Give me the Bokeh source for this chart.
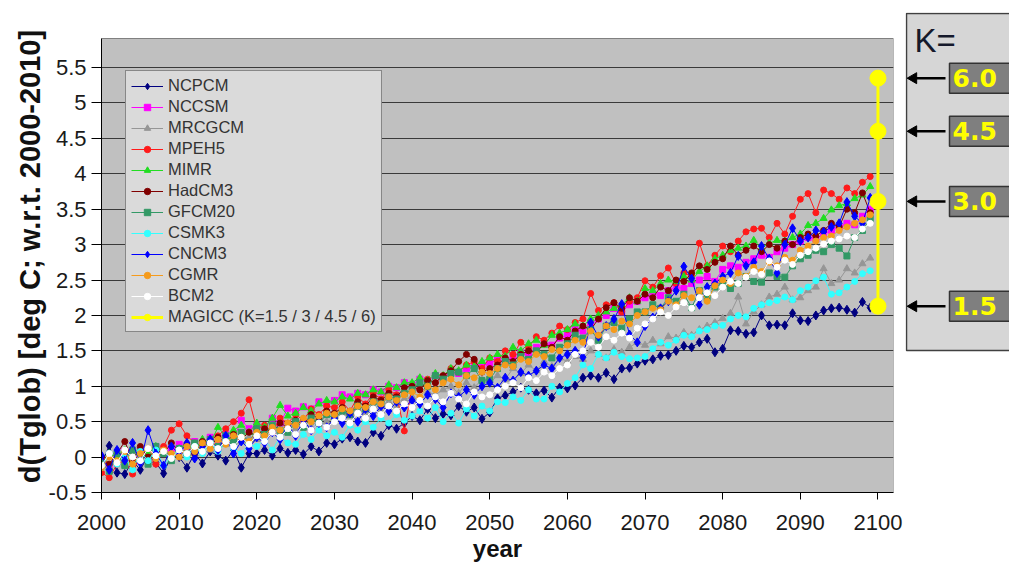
import math
from bokeh.plotting import figure
from bokeh.models import Range1d, FixedTicker, NumeralTickFormatter, Legend, LegendItem
from bokeh.layouts import row
from bokeh.embed import file_html
from bokeh.resources import INLINE
from bokeh.core.properties import value

years = list(range(2000, 2100))
x_ticks = [2000, 2010, 2020, 2030, 2040, 2050, 2060, 2070, 2080, 2090, 2100]
y_ticks = [-0.5, 0.0, 0.5, 1.0, 1.5, 2.0, 2.5, 3.0, 3.5, 4.0, 4.5, 5.0, 5.5]

NCPCM = [-0.10, 0.16, -0.22, -0.24, -0.05, -0.18, 0.02, -0.08, -0.23, 0.03,
         0.00, -0.15, 0.05, -0.09, 0.08, 0.02, -0.05, 0.10, -0.15, 0.05,
         0.05, 0.10, 0.02, 0.12, 0.06, 0.10, 0.04, 0.15, 0.08, 0.20,
         0.18, 0.26, 0.28, 0.22, 0.20, 0.35, 0.30, 0.45, 0.40, 0.48,
         0.58, 0.52, 0.68, 0.55, 0.61, 0.59, 0.72, 0.64, 0.70, 0.54,
         0.63, 0.83, 0.87, 0.92, 0.98, 0.95, 0.90, 0.94, 0.84, 0.98,
         0.97, 1.01, 1.12, 1.15, 1.12, 1.19, 1.10, 1.25, 1.26, 1.32,
         1.36, 1.38, 1.43, 1.44, 1.50, 1.57, 1.55, 1.62, 1.67, 1.48,
         1.53, 1.79, 1.78, 1.74, 1.76, 2.00, 1.86, 1.87, 1.86, 2.03,
         1.93, 1.92, 2.00, 2.07, 2.10, 2.11, 2.08, 2.04, 2.19, 2.11]
NCCSM = [-0.05, -0.12, 0.00, 0.08, -0.08, 0.10, 0.02, 0.15, 0.05, 0.12,
         0.18, 0.10, 0.22, 0.15, 0.28, 0.20, 0.32, 0.25, 0.52, 0.40,
         0.45, 0.40, 0.55, 0.48, 0.69, 0.65, 0.71, 0.68, 0.78, 0.75,
         0.80, 0.88, 0.85, 0.90, 0.88, 0.95, 0.92, 1.00, 0.98, 1.05,
         1.02, 1.10, 1.08, 1.15, 1.12, 1.20, 1.18, 1.25, 1.28, 1.30,
         1.32, 1.38, 1.35, 1.42, 1.48, 1.45, 1.55, 1.60, 1.58, 1.68,
         1.72, 1.80, 1.78, 1.90, 1.95, 2.00, 2.10, 2.05, 2.15, 2.20,
         2.25, 2.30, 2.28, 2.35, 2.40, 2.38, 2.45, 2.50, 2.55, 2.48,
         2.65, 2.70, 2.68, 2.75, 2.80, 2.85, 2.82, 2.90, 2.95, 3.00,
         3.05, 3.10, 3.08, 3.15, 3.20, 3.25, 3.30, 3.28, 3.40, 3.50]
MRCGCM = [-0.05, -0.15, 0.02, -0.10, 0.08, -0.02, 0.05, -0.08, 0.12, 0.00,
          0.08, 0.15, 0.05, 0.20, 0.10, 0.25, 0.18, 0.30, 0.22, 0.28,
          0.25, 0.32, 0.38, 0.30, 0.45, 0.40, 0.48, 0.42, 0.55, 0.50,
          0.55, 0.62, 0.58, 0.68, 0.60, 0.72, 0.65, 0.78, 0.70, 0.82,
          0.85, 0.78, 0.92, 0.88, 0.95, 1.00, 0.90, 1.05, 0.98, 1.10,
          1.05, 1.15, 1.10, 1.25, 1.18, 1.30, 1.22, 1.35, 1.28, 1.40,
          1.35, 1.42, 1.38, 1.50, 1.45, 1.40, 1.52, 1.48, 1.55, 1.62,
          1.58, 1.65, 1.60, 1.70, 1.68, 1.76, 1.72, 1.80, 1.85, 1.90,
          1.96, 2.03, 2.26, 1.88, 2.05, 2.15, 2.26, 2.30, 2.40, 2.22,
          2.25, 2.35, 2.40, 2.66, 2.45, 2.50, 2.66, 2.60, 2.73, 2.81]
MPEH5 = [-0.22, -0.29, -0.10, -0.05, -0.24, 0.05, 0.00, -0.10, 0.15, 0.38,
         0.47, 0.30, 0.20, 0.15, 0.25, 0.30, 0.40, 0.50, 0.62, 0.81,
         0.40, 0.45, 0.35, 0.55, 0.48, 0.60, 0.52, 0.68, 0.60, 0.72,
         0.70, 0.78, 0.65, 0.85, 0.75, 0.90, 0.82, 0.95, 0.88, 0.37,
         1.00, 0.95, 1.10, 1.05, 1.15, 1.25, 1.20, 1.30, 1.35, 1.25,
         1.40, 1.35, 1.50, 1.45, 1.62, 1.55, 1.70, 1.65, 1.75, 1.85,
         1.80, 1.90, 1.95, 2.31, 2.07, 2.15, 2.18, 2.05, 2.20, 2.25,
         2.49, 2.40, 2.56, 2.67, 2.45, 2.60, 2.55, 3.02, 2.70, 2.85,
         2.98, 2.90, 3.05, 3.18, 3.22, 3.23, 3.10, 3.30, 3.15, 3.40,
         3.64, 3.72, 3.45, 3.77, 3.72, 3.64, 3.80, 3.72, 3.88, 3.96]
MIMR = [-0.10, 0.05, 0.00, 0.10, -0.05, 0.12, 0.05, 0.15, 0.08, 0.00,
        0.12, 0.18, 0.10, 0.25, 0.20, 0.42, 0.30, 0.38, 0.45, 0.35,
        0.48, 0.42, 0.55, 0.73, 0.58, 0.62, 0.70, 0.65, 0.75, 0.80,
        0.78, 0.85, 0.82, 0.90, 0.88, 0.95, 0.92, 1.02, 0.98, 1.05,
        1.05, 1.12, 1.08, 1.18, 1.15, 1.25, 1.22, 1.30, 1.28, 1.35,
        1.40, 1.45, 1.42, 1.55, 1.50, 1.60, 1.65, 1.58, 1.72, 1.75,
        1.80, 1.88, 1.85, 1.95, 2.00, 2.05, 2.10, 2.15, 2.25, 2.20,
        2.38, 2.35, 2.45, 2.50, 2.48, 2.55, 2.50, 2.62, 2.70, 2.80,
        2.85, 2.92, 2.95, 2.98, 3.06, 2.95, 3.02, 3.06, 3.05, 3.10,
        3.15, 3.27, 3.30, 3.37, 3.49, 3.55, 3.58, 3.65, 3.70, 3.82]
HadCM3 = [0.00, -0.10, 0.05, 0.22, -0.05, 0.15, 0.00, 0.10, 0.05, 0.20,
          0.08, 0.18, 0.05, 0.22, 0.15, 0.28, 0.20, 0.32, 0.25, 0.35,
          0.30, 0.40, 0.35, 0.48, 0.42, 0.52, 0.45, 0.60, 0.55, 0.65,
          0.62, 0.70, 0.60, 0.78, 0.72, 0.85, 0.80, 0.90, 0.85, 0.98,
          1.00, 0.95, 1.08, 1.05, 1.15, 1.22, 1.35, 1.45, 1.38, 1.20,
          1.25, 1.30, 1.40, 1.35, 1.45, 1.50, 1.48, 1.60, 1.55, 1.70,
          1.65, 1.78, 1.85, 1.80, 1.95, 2.11, 2.18, 2.10, 2.25, 2.20,
          2.30, 2.25, 2.40, 2.35, 2.50, 2.48, 2.60, 2.70, 2.65, 2.75,
          2.80, 2.98, 2.85, 2.92, 2.98, 2.90, 3.00, 2.95, 3.05, 3.00,
          3.10, 3.15, 3.12, 3.20, 3.30, 3.25, 3.50, 3.45, 3.73, 3.45]
GFCM20 = [-0.08, -0.20, 0.05, -0.12, 0.10, 0.00, -0.10, 0.15, 0.05, -0.05,
          0.12, 0.05, 0.20, 0.10, 0.25, 0.15, 0.30, 0.22, 0.35, 0.20,
          0.40, 0.32, 0.45, 0.38, 0.35, 0.50, 0.42, 0.55, 0.48, 0.60,
          0.55, 0.65, 0.60, 0.72, 0.68, 0.78, 0.75, 0.85, 0.82, 0.90,
          0.95, 1.05, 1.00, 1.15, 1.10, 1.18, 1.20, 1.15, 1.25, 1.08,
          1.10, 1.25, 1.35, 1.30, 1.42, 1.38, 1.50, 1.45, 1.40, 1.55,
          1.60, 1.72, 1.68, 1.80, 1.65, 1.85, 1.90, 1.82, 1.95, 2.05,
          2.05, 2.15, 2.10, 2.25, 2.20, 2.30, 2.11, 2.35, 2.25, 2.40,
          2.45, 2.38, 2.45, 2.55, 2.48, 2.47, 2.60, 2.55, 2.54, 2.70,
          2.80, 2.85, 2.92, 2.90, 3.00, 2.95, 2.84, 3.10, 3.20, 3.37]
CSMK3 = [-0.15, 0.05, -0.10, 0.00, -0.18, 0.08, -0.05, 0.10, -0.12, 0.02,
         0.10, 0.00, 0.15, 0.05, 0.20, 0.08, 0.22, 0.12, 0.05, 0.18,
         0.15, 0.25, 0.10, 0.28, 0.20, 0.18, 0.32, 0.25, 0.38, 0.30,
         0.35, 0.28, 0.45, 0.38, 0.50, 0.42, 0.55, 0.48, 0.60, 0.52,
         0.58, 0.65, 0.55, 0.70, 0.50, 0.62, 0.48, 0.68, 0.58, 0.72,
         0.65, 0.78, 0.77, 0.85, 0.80, 0.95, 0.82, 0.82, 1.00, 0.92,
         1.04, 1.12, 1.30, 1.25, 1.45, 1.40, 1.48, 1.42, 1.39, 1.40,
         1.42, 1.53, 1.62, 1.58, 1.65, 1.72, 1.70, 1.78, 1.80, 1.85,
         1.86, 1.95, 2.00, 1.98, 2.10, 2.15, 2.18, 2.21, 2.26, 2.22,
         2.35, 2.40, 2.49, 2.54, 2.30, 2.32, 2.40, 2.48, 2.59, 2.63]
CNCM3 = [0.02, -0.18, 0.10, -0.05, 0.20, -0.08, 0.38, 0.05, -0.12, 0.15,
         0.05, 0.20, -0.02, 0.15, 0.25, 0.10, 0.30, 0.05, 0.22, 0.12,
         0.28, 0.20, 0.35, 0.25, 0.45, 0.30, 0.52, 0.38, 0.48, 0.42,
         0.55, 0.48, 0.62, 0.50, 0.68, 0.58, 0.72, 0.65, 0.78, 0.70,
         0.80, 0.75, 0.88, 0.82, 0.70, 0.90, 0.85, 0.95, 0.88, 1.00,
         1.05, 0.98, 1.12, 1.08, 1.20, 1.15, 1.22, 1.30, 1.25, 1.40,
         1.45, 1.50, 1.41, 1.90, 1.70, 1.85, 1.95, 2.16, 1.73, 1.62,
         1.85, 1.97, 2.10, 2.20, 2.35, 2.69, 2.52, 2.15, 2.40, 2.45,
         2.55, 2.60, 2.84, 2.70, 2.75, 2.98, 2.80, 2.60, 3.00, 3.23,
         3.05, 3.10, 3.20, 3.18, 3.25, 3.30, 3.60, 3.40, 3.30, 3.66]
CGMR = [-0.15, 0.00, -0.05, 0.08, -0.10, 0.05, 0.12, -0.02, 0.10, 0.05,
        0.00, 0.15, 0.08, 0.20, 0.12, 0.25, 0.18, 0.30, 0.28, 0.22,
        0.35, 0.30, 0.42, 0.38, 0.48, 0.45, 0.55, 0.50, 0.58, 0.62,
        0.60, 0.68, 0.65, 0.72, 0.70, 0.78, 0.75, 0.85, 0.80, 0.88,
        0.92, 0.85, 1.00, 0.95, 1.05, 1.10, 1.02, 1.15, 1.12, 1.20,
        1.18, 1.25, 1.30, 1.28, 1.38, 1.35, 1.45, 1.42, 1.52, 1.50,
        1.58, 1.65, 1.62, 1.78, 1.72, 1.85, 1.80, 1.92, 1.88, 2.00,
        2.05, 2.10, 2.08, 2.20, 2.15, 2.28, 2.25, 2.35, 2.20, 2.42,
        2.50, 2.45, 2.60, 2.55, 2.68, 2.62, 2.75, 2.70, 2.82, 2.78,
        2.92, 2.98, 3.05, 3.10, 3.12, 3.20, 3.25, 3.30, 3.35, 3.42]
BCM2 = [-0.12, 0.05, -0.08, 0.10, 0.00, -0.05, 0.12, 0.02, 0.08, -0.02,
        0.10, 0.05, 0.15, 0.08, 0.20, 0.12, 0.22, 0.15, 0.28, 0.18,
        0.30, 0.22, 0.35, 0.28, 0.40, 0.32, 0.45, 0.38, 0.48, 0.42,
        0.50, 0.55, 0.48, 0.62, 0.55, 0.68, 0.60, 0.72, 0.65, 0.75,
        0.70, 0.80, 0.72, 0.85, 0.78, 0.90, 0.82, 0.75, 0.92, 0.85,
        0.88, 0.95, 1.00, 1.05, 0.98, 1.12, 1.08, 1.20, 1.15, 1.25,
        1.30, 1.45, 1.50, 1.62, 1.55, 1.70, 1.65, 1.75, 1.68, 1.82,
        1.88, 1.95, 2.05, 2.00, 2.12, 2.18, 2.10, 2.25, 2.32, 2.28,
        2.40, 2.48, 2.45, 2.54, 2.62, 2.58, 2.77, 2.68, 2.78, 2.72,
        2.85, 2.90, 2.95, 3.01, 3.05, 3.08, 3.12, 3.10, 3.22, 3.30]

MAGICC_year = [2100, 2100, 2100, 2100]
MAGICC_K = [1.5, 3.0, 4.5, 6.0]
MAGICC_dT = [2.13, 3.61, 4.60, 5.35]

series = [
    ("NCPCM", NCPCM, "#000080", "diamond", 9),
    ("NCCSM", NCCSM, "#ff00ff", "square", 6),
    ("MRCGCM", MRCGCM, "#969696", "triangle", 7),
    ("MPEH5", MPEH5, "#ff1a1a", "circle", 6),
    ("MIMR", MIMR, "#22dd22", "triangle", 7),
    ("HadCM3", HadCM3, "#800000", "circle", 6),
    ("GFCM20", GFCM20, "#339966", "square", 6),
    ("CSMK3", CSMK3, "#33ffff", "circle", 6),
    ("CNCM3", CNCM3, "#0000ff", "diamond", 9),
    ("CGMR", CGMR, "#f59b1c", "circle", 6),
    ("BCM2", BCM2, "#ffffff", "circle", 6),
]

FONT = "Liberation Sans"
H = 564
PX = 454 / 6.41            # pixels per degree
X0, X1 = 2000, 2102        # plot area extent
Y0, Y1 = -0.5, 5.91        # plot area extent (grey)
TOP_PAD = 26               # white strip above the grey area, inside the frame
Y_TOP = Y1 + TOP_PAD / PX
FRAME_H = 454 + TOP_PAD

p = figure(width=905, height=H, x_range=Range1d(X0, X1), y_range=Range1d(Y0, Y_TOP),
           output_backend="svg", toolbar_location=None,
           min_border_left=101, min_border_right=12, min_border_top=38 - TOP_PAD,
           min_border_bottom=H - 38 - 454)
p.background_fill_color = "white"
p.border_fill_color = "white"
p.outline_line_color = None
p.quad(left=[X0], right=[X1], bottom=[Y0], top=[Y1], fill_color="#c0c0c0",
       line_color="#808080", line_width=1, level="image")
p.xgrid.visible = False
p.ygrid.ticker = FixedTicker(ticks=y_ticks)
p.ygrid.grid_line_color = "#3a3a3a"
p.ygrid.grid_line_width = 1
p.ygrid.bounds = (Y0, Y1)

p.xaxis.ticker = FixedTicker(ticks=x_ticks)
p.yaxis.ticker = FixedTicker(ticks=y_ticks)
p.yaxis.formatter = NumeralTickFormatter(format="0.[0]")
for ax in (p.xaxis[0], p.yaxis[0]):
    ax.axis_line_color = "black"
    ax.major_tick_line_color = "black"
    ax.major_tick_in = 0
    ax.minor_tick_line_color = None
    ax.major_label_text_font = FONT
    ax.major_label_text_font_size = "22px"
    ax.major_label_text_color = "#1a1a1a"
    ax.axis_label_text_font = FONT
    ax.axis_label_text_font_style = "bold"
    ax.axis_label_text_color = "#111111"
p.yaxis.bounds = (Y0, Y1)
p.xaxis.major_tick_out = 7
p.xaxis.major_label_standoff = 15
p.xaxis.axis_label = "year"
p.xaxis.axis_label_text_font_size = "24px"
p.xaxis.axis_label_standoff = 2
p.yaxis.major_tick_out = 10
p.yaxis.major_label_standoff = 5
p.yaxis.axis_label = "d(Tglob)  [deg C; w.r.t. 2000-2010]"
p.yaxis.axis_label_text_font_size = "29px"
p.yaxis.axis_label_standoff = 0

items = []
for name, vals, col, mk, sz in series:
    l = p.line(years, vals, line_color=col, line_width=1)
    s = p.scatter(years, vals, marker=mk, size=sz, fill_color=col, line_color=col)
    items.append(LegendItem(label=name, renderers=[l, s]))

ml = p.line(MAGICC_year, MAGICC_dT, line_color="#ffff00", line_width=3)
ms = p.scatter(MAGICC_year, MAGICC_dT, marker="circle", size=16, fill_color="#ffff00", line_color="#ffff00")
items.append(LegendItem(label="MAGICC (K=1.5 / 3 / 4.5 / 6)", renderers=[ml, ms]))

legend = Legend(items=items, location="top_left", margin=26,
                label_text_font=FONT, label_text_font_size="16.5px", label_text_color="#333333",
                glyph_width=32, glyph_height=16, label_height=16, spacing=2, padding=5,
                label_standoff=5, border_line_color="#333333", border_line_width=1,
                background_fill_color="#dadada", background_fill_alpha=1)
legend.location = (24, 492 - 332)
p.add_layout(legend)

# side panel with K labels; its frame is aligned with the main frame, same vertical scale
q = figure(width=104, height=H, x_range=Range1d(0, 104), y_range=p.y_range,
           output_backend="svg", toolbar_location=None, min_border=0,
           x_axis_type=None, y_axis_type=None)
q.grid.visible = False
q.outline_line_color = None
q.background_fill_color = "white"
q.border_fill_color = "white"

panel_top = Y_TOP - 1 / PX
panel_bottom = 5.5 - (350 - 67) / PX
q.quad(left=[1], right=[150], top=[panel_top], bottom=[panel_bottom],
       fill_color="#d6d6d6", line_color="#404040", line_width=1.5)
q.text(x=[9], y=[5.5 - (40 - 67) / PX], text=["K="], text_font=value(FONT), text_font_size="33px",
       text_baseline="middle", text_color="#15192b")
n = len(MAGICC_dT)
q.segment(x0=[40] * n, y0=MAGICC_dT, x1=[10] * n, y1=MAGICC_dT, line_color="black", line_width=2.5)
q.scatter(x=[8] * n, y=MAGICC_dT, marker="triangle", angle=math.pi / 2, size=11,
          fill_color="black", line_color="black")
q.rect(x=[76] * n, y=MAGICC_dT, width=64, height=30, height_units="screen",
       fill_color="#7f7f7f", line_color="#333333", line_width=1.5)
q.text(x=[47] * n, y=MAGICC_dT, text=[f"{k:.1f}" for k in MAGICC_K], text_font=value("DejaVu Sans"),
       text_font_style="bold", text_font_size="25px", text_color="#ffff00", text_baseline="middle")

layout = row(p, q)
open("out.html", "w").write(file_html(layout, INLINE))
